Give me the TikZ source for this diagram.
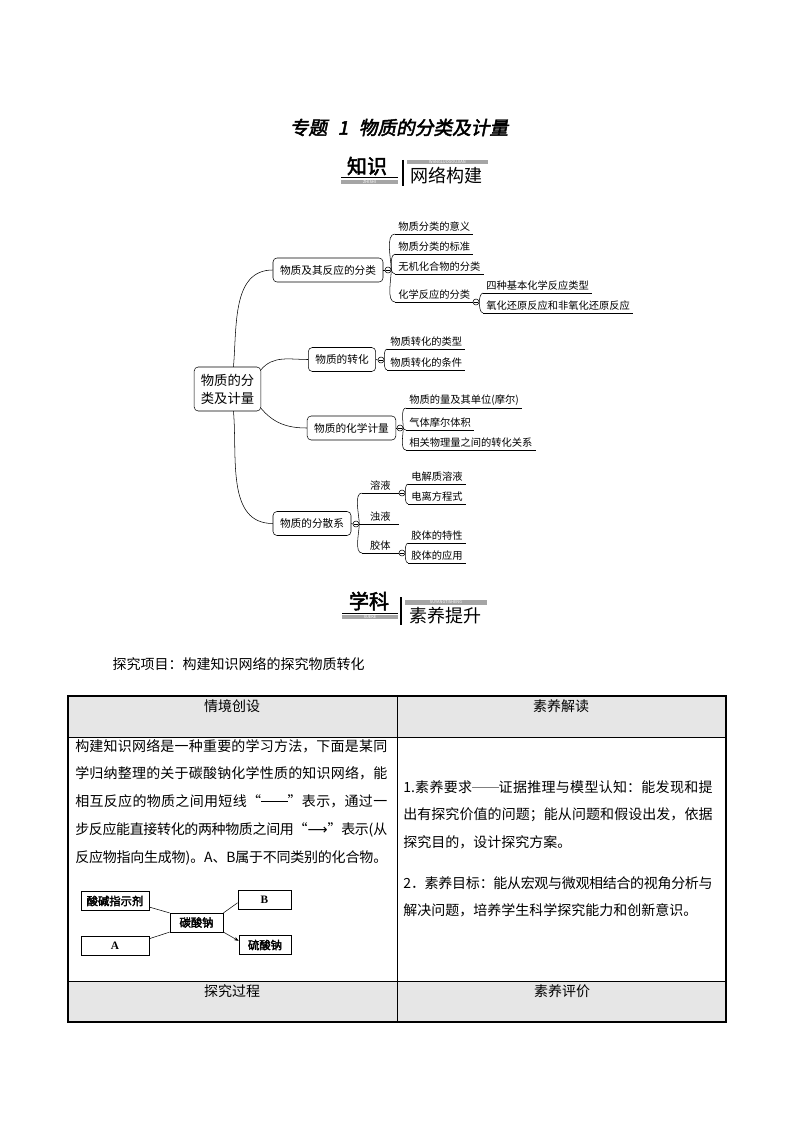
\documentclass[tikz,border=0pt]{standalone}
\usepackage{fontspec}
\setmainfont{Noto Sans CJK SC}
\newfontfamily\boldcjk{Noto Sans CJK SC}[FakeBold=2.5]
\newfontfamily\titlecjk{Noto Sans CJK SC}[FakeBold=2.5,FakeSlant=0.2]
\newfontfamily\latinserif{Liberation Serif}
\newfontfamily\symfont{DejaVu Sans}
\usetikzlibrary{arrows.meta}
\XeTeXlinebreaklocale "zh"
\XeTeXlinebreakskip=0pt plus 3pt minus 1pt
\setlength{\parindent}{0pt}
\newcommand{\twodash}{\rule[0.33em]{1.9em}{0.45pt}}
\definecolor{barGrey}{RGB}{165,165,165}
\definecolor{headGrey}{RGB}{230,230,230}

\begin{document}
\begin{tikzpicture}[
        x=0.75pt, y=0.75pt,
        rootbox/.style={
            draw,
            rounded corners=3pt,
            align=center,
            minimum width=50pt,
            minimum height=33pt,
            inner sep=0pt,
            font=\fontsize{10}{13.5}\selectfont
        },
        topicbox/.style={
            draw,
            rounded corners=3pt,
            inner xsep=5.25pt,
            inner ysep=0pt,
            minimum height=18pt,
            font=\fontsize{8}{9}\selectfont
        },
        toggle/.style={
            circle,
            draw,
            fill=white,
            minimum size=4.5pt,
            inner sep=0pt,
            path picture={\draw ([xshift=1pt]path picture bounding box.west)
                -- ([xshift=-1pt]path picture bounding box.east);}
        },
        leaf/.style={
            anchor=south west,
            inner xsep=2.25pt,
            inner ysep=1.5pt,
            font=\fontsize{7.7}{9}\selectfont
        },
        toup/.style={out=90, in=180, looseness=0.7},
        todown/.style={out=-90, in=180, looseness=0.7},
        bar/.style={
            fill=barGrey,
            inner sep=0pt,
            text=white,
            font=\fontsize{3}{3}\selectfont
        },
        smallbox/.style={
            draw,
            minimum height=14pt,
            inner sep=0pt,
            font=\boldcjk\fontsize{8.5}{9}\selectfont
        },
        body/.style={
            anchor=north west,
            text width=234pt,
            align=justify,
            inner sep=0pt,
            font=\fontsize{10.5}{20.8}\selectfont
        },
        head/.style={font=\fontsize{10.5}{12}\selectfont}
    ]

    \fill[white] (0,0) rectangle (794,-1123);
    \useasboundingbox (0,0) rectangle (794,-1123);

    % title
    \node[font=\titlecjk\fontsize{14}{15}\selectfont] (title) at (399,-127.5)
        {专题\hspace{8pt}1\hspace{8pt}物质的分类及计量};

    % heading: knowledge network
    \node[font=\boldcjk\fontsize{15}{16}\selectfont] (zhishi) at (367,-166) {知识};
    \draw (341,-177) -- (398,-177);
    \node[bar, minimum width=42.75pt, minimum height=3.5pt] (zhishibar) at (369.5,-182) {ZHISHI};
    \draw[line width=0.8pt] (403,-160) -- (403,-186);
    \node[bar, minimum width=60.75pt, minimum height=3pt] (wangluobar) at (447.5,-162.5) {WANGLUOGOUJIAN};
    \node[font=\fontsize{13.5}{14}\selectfont] (wangluo) at (446.5,-176) {网络构建};

    % mind map
    \node[rootbox] (root) at (227.5,-389) {物质的分\\类及计量};

    \node[topicbox] (classify) at (328,-270) {物质及其反应的分类};
    \node[topicbox] (convert) at (342,-359.5) {物质的转化};
    \node[topicbox] (measure) at (351.5,-428) {物质的化学计量};
    \node[topicbox] (disperse) at (312,-523.5) {物质的分散系};

    \draw (root.75) to[out=85, in=180] (classify.west);
    \draw (root.30) to[out=50, in=180] (convert.west);
    \draw (root.-30) to[out=-50, in=180] (measure.west);
    \draw (root.-75) to[out=-85, in=180] (disperse.west);

    \node[leaf] (meaning) at (395,-234) {物质分类的意义};
    \node[leaf] (standard) at (395,-254) {物质分类的标准};
    \node[leaf] (inorganic) at (395,-274) {无机化合物的分类};
    \node[leaf] (reaction) at (395,-302) {化学反应的分类};
    \node[leaf] (fourtypes) at (483,-293) {四种基本化学反应类型};
    \node[leaf] (redox) at (483,-313) {氧化还原反应和非氧化还原反应};

    \node[leaf] (convtype) at (387,-349) {物质转化的类型};
    \node[leaf] (convcond) at (387,-370) {物质转化的条件};

    \node[leaf] (mole) at (406,-408) {物质的量及其单位(摩尔)};
    \node[leaf] (molvol) at (406,-430) {气体摩尔体积};
    \node[leaf] (relation) at (406,-450) {相关物理量之间的转化关系};

    \node[leaf, minimum width=27pt] (solution) at (362,-493) {溶液};
    \node[leaf, minimum width=27pt] (turbid) at (362,-524) {浊液};
    \node[leaf, minimum width=27pt] (colloid) at (362,-553) {胶体};
    \node[leaf] (electrolyte) at (408,-484) {电解质溶液};
    \node[leaf] (ionization) at (408,-504) {电离方程式};
    \node[leaf] (property) at (408,-543) {胶体的特性};
    \node[leaf] (application) at (408,-563) {胶体的应用};

    \foreach \n in {meaning,standard,inorganic,reaction,fourtypes,redox,
        convtype,convcond,mole,molvol,relation,solution,turbid,colloid,
        electrolyte,ionization,property,application}
        \draw (\n.south west) -- (\n.south east);

    \node[toggle] (classifyT) at (388,-270) {};
    \node[toggle] (convertT) at (381,-360) {};
    \node[toggle] (measureT) at (400,-428) {};
    \node[toggle] (disperseT) at (356,-524) {};
    \node[toggle] (reactionT) at (476,-302) {};
    \node[toggle] (solutionT) at (402,-493) {};
    \node[toggle] (colloidT) at (402,-553) {};

    \draw (classify.east) -- (classifyT.west);
    \draw (convert.east) -- (convertT.west);
    \draw (measure.east) -- (measureT.west);
    \draw (disperse.east) -- (disperseT.west);

    \draw (classifyT.east) to[toup] (meaning.south west);
    \draw (classifyT.east) to[toup] (standard.south west);
    \draw (classifyT.east) to[todown] (inorganic.south west);
    \draw (classifyT.east) to[todown] (reaction.south west);
    \draw (reactionT.east) to[toup] (fourtypes.south west);
    \draw (reactionT.east) to[todown] (redox.south west);
    \draw (convertT.east) to[toup] (convtype.south west);
    \draw (convertT.east) to[todown] (convcond.south west);
    \draw (measureT.east) to[toup] (mole.south west);
    \draw (measureT.east) to[todown] (molvol.south west);
    \draw (measureT.east) to[todown] (relation.south west);
    \draw (disperseT.east) to[toup] (solution.south west);
    \draw (disperseT.east) -- (turbid.south west);
    \draw (disperseT.east) to[todown] (colloid.south west);
    \draw (solutionT.east) to[toup] (electrolyte.south west);
    \draw (solutionT.east) to[todown] (ionization.south west);
    \draw (colloidT.east) to[toup] (property.south west);
    \draw (colloidT.east) to[todown] (application.south west);

    % heading: literacy
    \node[font=\boldcjk\fontsize{15}{16}\selectfont] (xueke) at (369,-601) {学科};
    \draw (342,-613) -- (398,-613);
    \node[bar, minimum width=42pt, minimum height=3.5pt] (xuekebar) at (370,-617) {XUEKE};
    \draw[line width=0.8pt] (401,-597) -- (401,-625);
    \node[bar, minimum width=61.5pt, minimum height=3.5pt] (suyangbar) at (446,-602.5) {SUYANGTISHENG};
    \node[font=\fontsize{13.5}{14}\selectfont] (suyang) at (445,-615.5) {素养提升};

    \node[head, anchor=west] (project) at (108,-664) {探究项目：构建知识网络的探究物质转化};

    % table
    \fill[headGrey] (68,-696) rectangle (726,-737);
    \fill[headGrey] (68,-981) rectangle (726,-1022);
    \draw (68,-737) -- (726,-737);
    \draw (68,-981) -- (726,-981);
    \draw (397,-696) -- (397,-1022);
    \draw[line width=0.8pt] (68,-696) rectangle (726,-1022);

    \node[head] (scenehead) at (232,-706) {情境创设};
    \node[head] (readhead) at (561,-706) {素养解读};
    \node[head] (processhead) at (232,-991) {探究过程};
    \node[head] (evalhead) at (562,-991) {素养评价};

    \node[body] (scene) at (75,-739)
        {构建知识网络是一种重要的学习方法，下面是某同\linebreak
         学归纳整理的关于碳酸钠化学性质的知识网络，能\linebreak
         相互反应的物质之间用短线“\twodash”表示，通过一\linebreak
         步反应能直接转化的两种物质之间用“{\symfont ⟶}”表示(从\linebreak
         反应物指向生成物)。A、B属于不同类别的化合物。};

    \node[body, text width=232pt] (aim) at (403,-780)
        {1.素养要求{\color{gray}\twodash}证据推理与模型认知：能发现和提\linebreak
         出有探究价值的问题；能从问题和假设出发，依据\linebreak
         探究目的，设计探究方案。};

    \node[body, text width=232pt] (goal) at (403,-876)
        {2．素养目标：能从宏观与微观相结合的视角分析与\linebreak
         解决问题，培养学生科学探究能力和创新意识。};

    % sodium carbonate network
    \node[smallbox, minimum width=51pt] (indicator) at (115,-901) {酸碱指示剂};
    \node[smallbox, minimum width=40pt] (soda) at (196.5,-922.5) {碳酸钠};
    \node[smallbox, minimum width=40pt] (bnode) at (264.5,-899.5) {\latinserif\bfseries B};
    \node[smallbox, minimum width=51pt] (anode) at (115,-946) {\latinserif\bfseries A};
    \node[smallbox, minimum width=39pt] (sulfate) at (265,-945) {硫酸钠};

    \draw (indicator.-10) -- (soda.north west);
    \draw (anode.12) -- (soda.south west);
    \draw (soda.north east) -- (bnode.-173);
    \draw[-{Stealth[length=3.5pt,width=2.5pt]}] (soda.south east) -- (sulfate.171);

\end{tikzpicture}
\end{document}
